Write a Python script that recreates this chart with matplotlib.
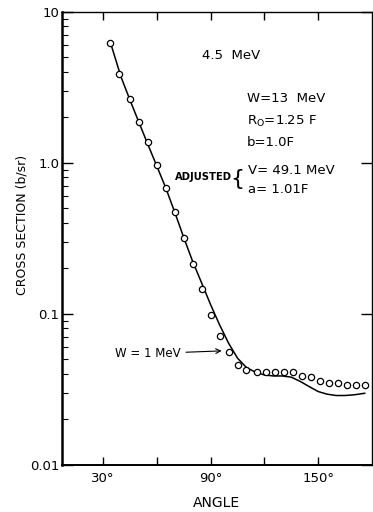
import numpy as np
import matplotlib.pyplot as plt
from matplotlib.ticker import FixedLocator, NullFormatter, LogLocator

# measured cross sections (open circles)
angles = [34, 39, 45, 50, 55, 60, 65, 70, 75, 80, 85, 90, 95, 100, 105,
          110, 116, 121, 126, 131, 136, 141, 146, 151, 156, 161, 166, 171, 176]
sigma = [6.2, 3.88, 2.66, 1.86, 1.37, 0.966, 0.68, 0.469, 0.32, 0.214,
         0.147, 0.098, 0.071, 0.0555, 0.046, 0.0422, 0.0411, 0.0411, 0.0411,
         0.041, 0.041, 0.039, 0.0383, 0.036, 0.0351, 0.0351, 0.034, 0.034, 0.034]

# optical-model curve
fit_angles = [34, 40, 45, 50, 55, 60, 65, 70, 75, 80, 85, 90, 95, 100, 105,
              110, 115, 120, 125, 130, 135, 140, 145, 150, 155, 160, 165, 170, 176]
fit_sigma = [6.3, 3.7, 2.6, 1.85, 1.32, 0.95, 0.68, 0.47, 0.32, 0.222,
             0.160, 0.115, 0.0846, 0.064, 0.0509, 0.0441, 0.0411, 0.0394,
             0.0388, 0.0388, 0.0381, 0.0357, 0.033, 0.0306, 0.0294, 0.0288,
             0.0288, 0.0291, 0.0298]

fig = plt.figure(figsize=(3.73, 5.12), dpi=100)
ax = fig.add_axes([0.166, 0.092, 0.831, 0.885])

ax.plot(fit_angles, fit_sigma, "k-", linewidth=1.1)
ax.plot(angles, sigma, "o", mfc="white", mec="black", markersize=4.5, mew=0.9)

ax.set_yscale("log")
ax.set_ylim(0.01, 10)
ax.set_xlim(7, 180)

# ── ticks ──────────────────────────────────────────
ax.xaxis.set_major_locator(FixedLocator([30, 60, 90, 120, 150]))
ax.set_xticklabels(["30°", "", "90°", "", "150°"])
ax.yaxis.set_major_locator(FixedLocator([0.01, 0.1, 1.0, 10]))
ax.set_yticklabels(["0.01", "0.1", "1.0", "10"])
ax.yaxis.set_minor_locator(LogLocator(base=10, subs=np.arange(2, 10)))
ax.yaxis.set_minor_formatter(NullFormatter())
ax.tick_params(which="major", direction="in", length=8, width=1,
               top=True, right=True, labelsize=9.5, pad=5)
ax.tick_params(axis="y", which="major", pad=2)
ax.tick_params(which="minor", direction="in", length=4, width=0.8,
               left=True, right=False)
ax.tick_params(axis="x", which="major", length=6)

for s in ax.spines.values():
    s.set_linewidth(1.0)
ax.spines["left"].set_linewidth(1.8)
ax.spines["bottom"].set_linewidth(1.4)

ax.set_xlabel("ANGLE", fontsize=10, labelpad=8)
ax.set_ylabel("CROSS SECTION (b/sr)", fontsize=9, va="center")
ax.yaxis.set_label_coords(-0.128, 0.53)

# ── annotations ────────────────────────────────────
fig.text(0.62, 0.892, "4.5  MeV", fontsize=9.5, ha="center", va="center")
fig.text(0.662, 0.808, "W=13  MeV", fontsize=9.5, va="center")
fig.text(0.662, 0.762, r"R$_\mathregular{O}$=1.25 F", fontsize=9.5, va="center")
fig.text(0.662, 0.721, "b=1.0F", fontsize=9.5, va="center")
fig.text(0.621, 0.655, "ADJUSTED", fontsize=7.2, fontweight="bold",
         va="center", ha="right")
fig.text(0.655, 0.650, "{", fontsize=16, va="center", ha="right")
fig.text(0.666, 0.667, "V= 49.1 MeV", fontsize=9.5, va="center")
fig.text(0.666, 0.629, "a= 1.01F", fontsize=9.5, va="center")

ax.annotate("W = 1 MeV", xy=(98.5, 0.057), xytext=(36.5, 0.0545),
            fontsize=8.5, va="center",
            arrowprops=dict(arrowstyle="->", color="black", lw=0.8,
                            shrinkA=2, shrinkB=3))

fig.savefig("out.png", dpi=100)
